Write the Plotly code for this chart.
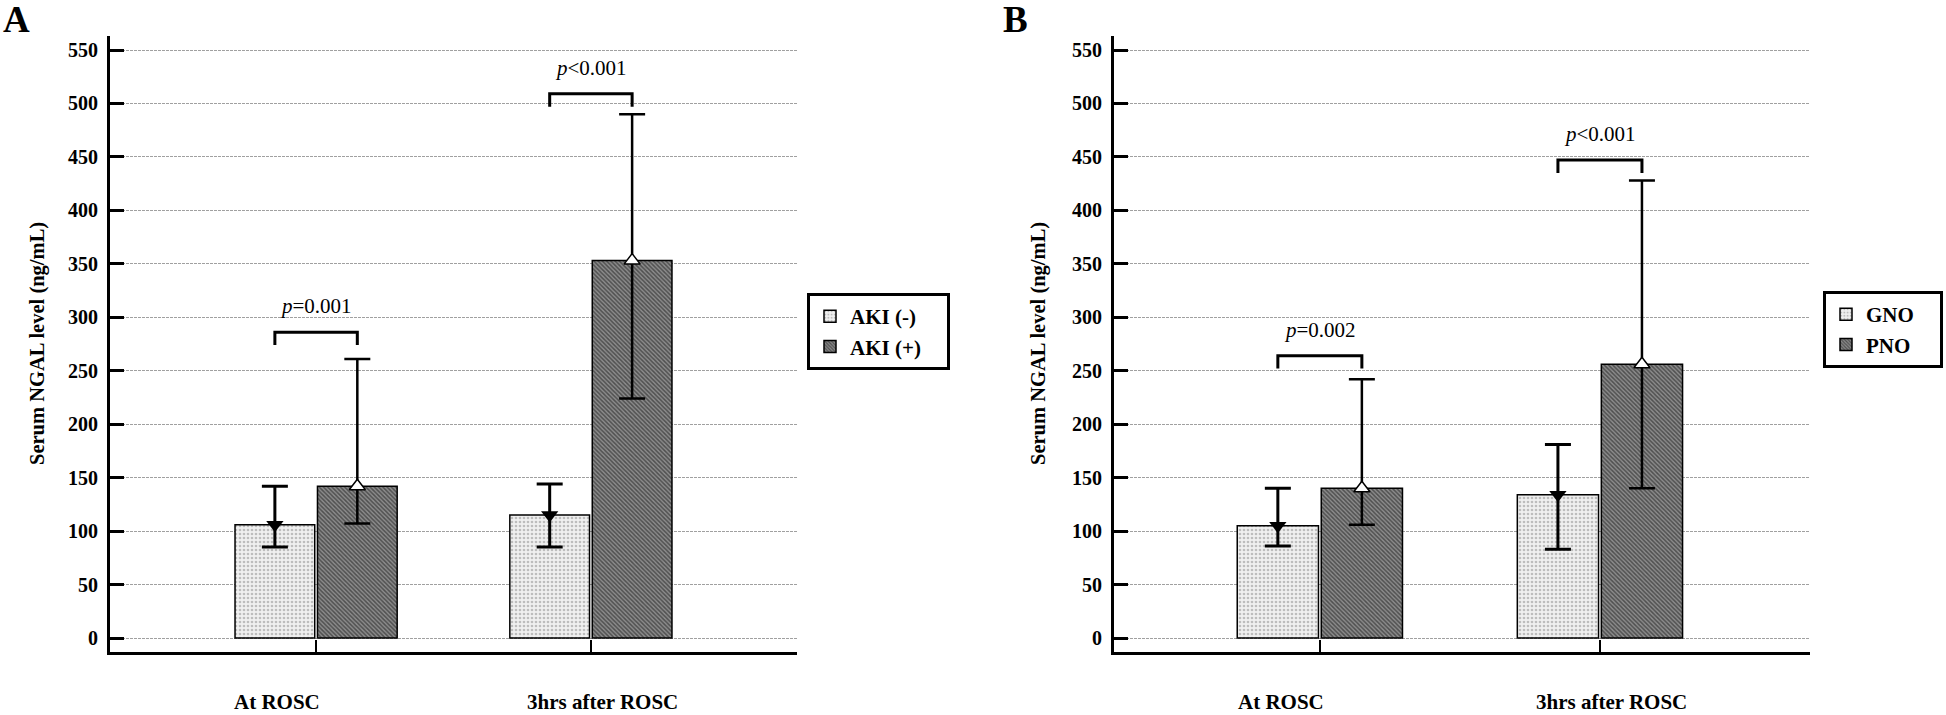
import plotly.graph_objects as go

# ---------------- data ----------------
categories = ["At ROSC", "3hrs after ROSC"]

# Panel A : AKI
a_groups = ["AKI (-)", "AKI (+)"]
a_neg_mean = [106, 115]
a_neg_upper = [142, 144]
a_neg_lower = [85, 85]
a_pos_mean = [142, 353]
a_pos_upper = [261, 490]
a_pos_lower = [107, 224]
a_pvals = ["<i>p</i>=0.001", "<i>p</i><0.001"]
a_bracket = [286, 509]

# Panel B : neurologic outcome
b_groups = ["GNO", "PNO"]
b_gno_mean = [105, 134]
b_gno_upper = [140, 181]
b_gno_lower = [86, 83]
b_pno_mean = [140, 256]
b_pno_upper = [242, 428]
b_pno_lower = [106, 140]
b_pvals = ["<i>p</i>=0.002", "<i>p</i><0.001"]
b_bracket = [264, 447]

y_ticks = list(range(0, 551, 50))

# ---------------- style ----------------
W, H = 1946, 715
ML, MR, MT, MB = 0, 0, 36, 63
PH = H - MT - MB
FONT = "Liberation Serif"
BAR_W = 0.29
OFF = 0.15
LIGHT_PAT = dict(shape=".", fgcolor="#8a8a8a", bgcolor="#f0f0f0", size=4, solidity=0.35)
DARK_PAT = dict(shape="\\", fgcolor="#111111", bgcolor="#8c8c8c", size=3, solidity=0.5)
NB = "\u00a0"

def px_x(p):
    return p / W

def px_y(p):
    return (H - MB - p) / PH

fig = go.Figure()

def add_panel(xa, ya, names, m1, u1, l1, m2, u2, l2, legend):
    idx = list(range(len(categories)))
    x1 = [i - OFF for i in idx]
    x2 = [i + OFF for i in idx]
    fig.add_trace(go.Bar(x=x1, y=m1, width=BAR_W, name=names[0] + NB * 4, xaxis=xa, yaxis=ya,
                         marker=dict(color="#f0f0f0", pattern=LIGHT_PAT,
                                     line=dict(color="black", width=1.5)),
                         legend=legend, legendgroup=legend + "a", showlegend=True))
    fig.add_trace(go.Bar(x=x2, y=m2, width=BAR_W, name=names[1] + NB * 4, xaxis=xa, yaxis=ya,
                         marker=dict(color="#8c8c8c", pattern=DARK_PAT,
                                     line=dict(color="black", width=1.5)),
                         legend=legend, legendgroup=legend + "b", showlegend=True))
    fig.add_trace(go.Scatter(x=x1, y=m1, mode="markers", xaxis=xa, yaxis=ya, showlegend=False,
                             marker=dict(symbol="triangle-down", size=15, color="black"),
                             error_y=dict(type="data", symmetric=False,
                                          array=[u - m for u, m in zip(u1, m1)],
                                          arrayminus=[m - l for m, l in zip(m1, l1)],
                                          color="black", thickness=3, width=13)))
    fig.add_trace(go.Scatter(x=x2, y=m2, mode="markers", xaxis=xa, yaxis=ya, showlegend=False,
                             marker=dict(symbol="triangle-up", size=14, color="white",
                                         line=dict(color="black", width=1.5)),
                             error_y=dict(type="data", symmetric=False,
                                          array=[u - m for u, m in zip(u2, m2)],
                                          arrayminus=[m - l for m, l in zip(m2, l2)],
                                          color="black", thickness=2.5, width=13)))

add_panel("x", "y", a_groups, a_neg_mean, a_neg_upper, a_neg_lower,
          a_pos_mean, a_pos_upper, a_pos_lower, "legend")
add_panel("x2", "y2", b_groups, b_gno_mean, b_gno_upper, b_gno_lower,
          b_pno_mean, b_pno_upper, b_pno_lower, "legend2")

shapes = []
annotations = []

def add_brackets(xref, yref, tops, texts):
    for i, (t, txt) in enumerate(zip(tops, texts)):
        shapes.append(dict(type="path", xref=xref, yref=yref,
                           path=f"M {i-OFF},{t-12} L {i-OFF},{t} L {i+OFF},{t} L {i+OFF},{t-12}",
                           line=dict(color="black", width=3)))
        annotations.append(dict(x=i, y=t, xref=xref, yref=yref, text=txt, showarrow=False,
                                yanchor="bottom", yshift=12,
                                font=dict(family=FONT, size=21, color="black")))

add_brackets("x", "y", a_bracket, a_pvals)
add_brackets("x2", "y2", b_bracket, b_pvals)

label_shift = [-39, 12]
for xr in ["x", "x2"]:
    for i, c in enumerate(categories):
        annotations.append(dict(x=i, y=px_y(702), xref=xr, yref="paper", text=c, showarrow=False,
                                xshift=label_shift[i], yanchor="middle",
                                font=dict(family=FONT, size=21, color="black", weight="bold")))

for letter, xp in [("A", 1), ("B", 1001)]:
    annotations.append(dict(x=px_x(xp), y=px_y(20), xref="paper", yref="paper", text=letter,
                            showarrow=False, xanchor="left", yanchor="middle",
                            font=dict(family=FONT, size=37, color="black", weight="bold")))

for xp in [37, 1038]:
    annotations.append(dict(x=px_x(xp), y=px_y(344), xref="paper", yref="paper",
                            text="Serum NGAL level (ng/mL)", textangle=-90, showarrow=False,
                            xanchor="center", yanchor="middle",
                            font=dict(family=FONT, size=20.5, color="black", weight="bold")))

xcommon = dict(showline=True, linecolor="black", linewidth=3, ticks="inside", ticklen=12,
               tickwidth=2, tickcolor="black", tickvals=[0, 1], showticklabels=False,
               showgrid=False, zeroline=False, fixedrange=True)
ycommon = dict(range=[-13.1, 563.1], tickvals=y_ticks, showline=True, linecolor="black",
               linewidth=3, ticks="inside", ticklen=14, tickwidth=3, tickcolor="black",
               showgrid=True, gridcolor="#a0a0a0", gridwidth=1, griddash="3px,1px",
               zeroline=False, ticklabelstandoff=5,
               tickfont=dict(family=FONT, size=20, color="black", weight="bold"))

legend_common = dict(bgcolor="white", bordercolor="black", borderwidth=3,
                     font=dict(family=FONT, size=21, color="black", weight="bold"),
                     xanchor="left", yanchor="top", tracegroupgap=0, itemwidth=30)

fig.update_layout(
    width=W, height=H, margin=dict(l=ML, r=MR, t=MT, b=MB),
    paper_bgcolor="white", plot_bgcolor="white", barmode="overlay",
    xaxis=dict(domain=[px_x(110), px_x(797)], range=[-0.75, 1.75], anchor="y", **xcommon),
    xaxis2=dict(domain=[px_x(1114), px_x(1810)], range=[-0.735, 1.75], anchor="y2", **xcommon),
    yaxis=dict(anchor="x", **ycommon),
    yaxis2=dict(anchor="x2", **ycommon),
    legend=dict(x=px_x(807), y=px_y(293), **legend_common),
    legend2=dict(x=px_x(1823), y=px_y(291), **legend_common),
    shapes=shapes, annotations=annotations,
)

fig.write_html("out.html", config={"displayModeBar": False},
               post_script="document.body.style.margin='0';document.body.style.overflow='hidden';")
